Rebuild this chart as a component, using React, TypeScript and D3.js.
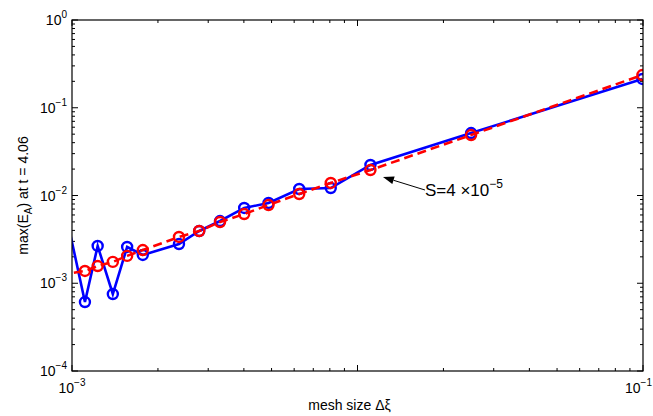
import React from "react";
import * as d3 from "d3";

const W = 653;
const H = 416;
const M = { left: 72, right: 10, top: 20, bottom: 45 };

// mesh sizes (first point lies just outside the axis and is clipped)
const meshX = [0.000908, 0.00111, 0.00123, 0.00139, 0.00156, 0.00177, 0.00237, 0.00279, 0.0033, 0.00401, 0.00488, 0.00625, 0.00806, 0.0111, 0.025, 0.0995];
const blueY = [0.01263, 0.000611, 0.00266, 0.000754, 0.00259, 0.0021, 0.0028, 0.00394, 0.00512, 0.00721, 0.00822, 0.01186, 0.01217, 0.0223, 0.0515, 0.213];
const redY = [0.001248, 0.00138, 0.00157, 0.00175, 0.00205, 0.00239, 0.00337, 0.00394, 0.00499, 0.00615, 0.00779, 0.0104, 0.0139, 0.0195, 0.0489, 0.236];

const xMajor = [0.001, 0.01, 0.1];
const xLabelled = [0.001, 0.1];
const yMajor = [0.0001, 0.001, 0.01, 0.1, 1];
const xExp = [-3, -1];
const yExp = [-4, -3, -2, -1, 0];

const annTip = [0.01228, 0.01625];
const annTail = [0.01723, 0.01155];
const annText = "S=4 ×10";
const annSup = "−5";

const FONT = "'Liberation Sans', Arial, Helvetica, sans-serif";

export default function App() {
  const x = d3.scaleLog().domain([0.001, 0.1]).range([M.left, W - M.right]);
  const y = d3.scaleLog().domain([0.0001, 1]).range([H - M.bottom, M.top]);
  const x0 = M.left, x1 = W - M.right, y0 = M.top, y1 = H - M.bottom;

  const lineGen = d3.line<[number, number]>().x(d => x(d[0])).y(d => y(d[1]));
  const bluePath = lineGen(meshX.map((v, i) => [v, blueY[i]] as [number, number]));
  const redPath = lineGen(meshX.map((v, i) => [v, redY[i]] as [number, number]));

  const minorX: number[] = [];
  [0.001, 0.01].forEach(d => { for (let k = 2; k <= 9; k++) minorX.push(d * k); });
  const minorY: number[] = [];
  [0.0001, 0.001, 0.01, 0.1].forEach(d => { for (let k = 2; k <= 9; k++) minorY.push(d * k); });

  const tx = x(annTip[0]), ty = y(annTip[1]);
  const sx = x(annTail[0]), sy = y(annTail[1]);
  const ang = Math.atan2(ty - sy, tx - sx);
  const hl = 11, hw = 4;
  const bx = tx - hl * Math.cos(ang), by = ty - hl * Math.sin(ang);
  const head = `M${tx},${ty} L${bx + hw * Math.sin(ang)},${by - hw * Math.cos(ang)} L${bx - hw * Math.sin(ang)},${by + hw * Math.cos(ang)} Z`;

  return (
    <svg width={W} height={H} style={{ position: "absolute", left: 0, top: 0, background: "#fff" }} fontFamily={FONT}>
      <defs>
        <clipPath id="plotclip">
          <rect x={x0} y={y0} width={x1 - x0} height={y1 - y0} />
        </clipPath>
      </defs>
      <rect x={0} y={0} width={W} height={H} fill="#fff" />
      {/* ticks */}
      <g stroke="#000" strokeWidth={1}>
        {xMajor.map((v, i) => (
          <g key={"xm" + i}>
            <line x1={x(v)} x2={x(v)} y1={y1} y2={y1 - 6} />
            <line x1={x(v)} x2={x(v)} y1={y0} y2={y0 + 6} />
          </g>
        ))}
        {minorX.map((v, i) => (
          <g key={"xn" + i}>
            <line x1={x(v)} x2={x(v)} y1={y1} y2={y1 - 3} />
            <line x1={x(v)} x2={x(v)} y1={y0} y2={y0 + 3} />
          </g>
        ))}
        {yMajor.map((v, i) => (
          <g key={"ym" + i}>
            <line x1={x0} x2={x0 + 6} y1={y(v)} y2={y(v)} />
            <line x1={x1} x2={x1 - 6} y1={y(v)} y2={y(v)} />
          </g>
        ))}
        {minorY.map((v, i) => (
          <g key={"yn" + i}>
            <line x1={x0} x2={x0 + 3} y1={y(v)} y2={y(v)} />
            <line x1={x1} x2={x1 - 3} y1={y(v)} y2={y(v)} />
          </g>
        ))}
      </g>
      {/* data */}
      <g clipPath="url(#plotclip)">
        <path d={bluePath || ""} fill="none" stroke="#0000ff" strokeWidth={2.6} />
        {meshX.map((v, i) => (
          <circle key={"b" + i} cx={x(v)} cy={y(blueY[i])} r={5} fill="none" stroke="#0000ff" strokeWidth={2.4} />
        ))}
        <path d={redPath || ""} fill="none" stroke="#ff0000" strokeWidth={2.6} strokeDasharray="9,5" />
        {meshX.map((v, i) => (
          <circle key={"r" + i} cx={x(v)} cy={y(redY[i])} r={5} fill="none" stroke="#ff0000" strokeWidth={2.4} />
        ))}
      </g>
      {/* frame */}
      <rect x={x0} y={y0} width={x1 - x0} height={y1 - y0} fill="none" stroke="#000" strokeWidth={1.2} />
      {/* tick labels */}
      {yMajor.map((v, i) => (
        <text key={"yl" + i} x={x0 - 5} y={y(v) + 5} fontSize={14} textAnchor="end">
          10<tspan fontSize={10} dy={-7}>{yExp[i] < 0 ? "−" + Math.abs(yExp[i]) : String(yExp[i])}</tspan>
        </text>
      ))}
      {xLabelled.map((v, i) => {
        const last = i === xLabelled.length - 1;
        return (
          <text key={"xl" + i} x={last ? W - 1 : x(v)} y={393} fontSize={14} textAnchor={last ? "end" : "middle"}>
            10<tspan fontSize={10} dy={-7}>{"−" + Math.abs(xExp[i])}</tspan>
          </text>
        );
      })}
      {/* axis titles */}
      <text x={(x0 + x1) / 2 - 8} y={410} fontSize={14} textAnchor="middle">mesh size Δξ</text>
      <text transform={`translate(28,${(y0 + y1) / 2}) rotate(-90)`} fontSize={14} textAnchor="middle">
        max(E<tspan fontSize={10} dy={4}>A</tspan><tspan dy={-4}>) at t = 4.06</tspan>
      </text>
      {/* annotation */}
      <line x1={sx} y1={sy} x2={bx} y2={by} stroke="#000" strokeWidth={1} />
      <path d={head} fill="#000" />
      <text x={sx} y={sy + 6} fontSize={17}>
        {annText}<tspan fontSize={12} dy={-8}>{annSup}</tspan>
      </text>
    </svg>
  );
}
